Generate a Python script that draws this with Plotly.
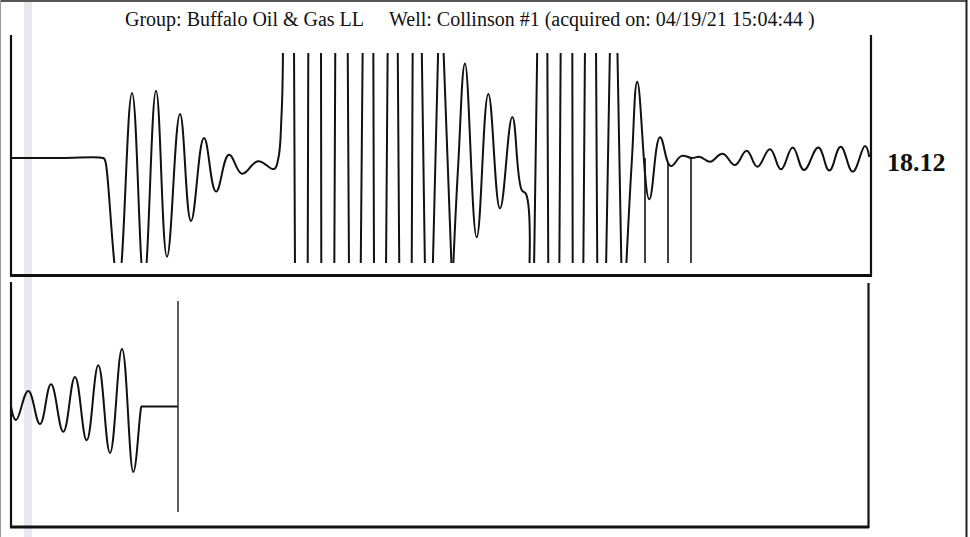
import plotly.graph_objects as go

W, H = 970, 537

# ---------------- data (time in samples, amplitude normalised so the display clip is +/-1) ----------------
# upper trace, split into smooth wavelets and clipped (saturated) bursts
wave1_t = [0, 50, 92, 93.5, 95, 107.3, 121, 133, 145, 156, 169, 180, 193, 205, 218, 231, 247, 263, 267, 270.5, 272]
wave1_amp = [0, 0, 0, -0.01, -0.06, -1.2, 0.62, -1.18, 0.64, -0.94, 0.42, -0.60, 0.19, -0.32, 0.03, -0.15, -0.03,
             -0.105, -0.02, 0.4, 1.08]

burst1_t = [272, 283, 284, 296.7, 297.3, 310, 310.3, 323.3, 324.3, 336.7, 338, 349.7, 351.7, 362.3, 363,
            375, 376.7, 386.7, 388.3, 400.7, 401.7, 410.7, 414, 421.7, 427.3, 432.3, 440.7, 442]
burst1_amp = [1.08, 1.08, -1.08, -1.08, 1.08, 1.08, -1.08, -1.08, 1.08, 1.08, -1.08, -1.08, 1.08, 1.08, -1.08,
              -1.08, 1.08, 1.08, -1.08, -1.08, 1.08, 1.08, -1.08, -1.08, 1.08, 1.08, -1.08, -1.08]

wave2_t = [442, 447.3, 454, 465.7, 477.3, 489, 501.3, 510.7, 515, 518.3]
wave2_amp = [-1.08, -0.05, 0.90, -0.755, 0.61, -0.48, 0.39, -0.305, -0.343, -1.08]

burst2_t = [518.3, 523, 526.3, 536.3, 537.3, 548.3, 549.7, 561.3, 561.7, 572.3, 574, 585, 586.3, 595, 599,
            606.3, 610.5, 615]
burst2_amp = [-1.08, -1.08, 1.08, 1.08, -1.08, -1.08, 1.08, 1.08, -1.08, -1.08, 1.08, 1.08, -1.08, -1.08, 1.08,
              1.08, -1.08, -1.08]

tail_t = [615, 621, 626.3, 638.3, 649, 659.7, 670.7, 680.7, 689, 699, 711.7, 724, 735.7, 746.3,
          759, 770, 781.7, 793, 807.3, 818.3, 829.7, 841.7, 854, 858.3]
tail_amp = [-1.08, 0.0, 0.727, -0.393, 0.197, -0.076, 0.02, 0.0, 0.01, -0.035, 0.04, -0.067, 0.07, -0.083,
            0.083, -0.108, 0.10, -0.114, 0.10, -0.12, 0.108, -0.13, 0.114, 0.01]

pick_t = [634, 657, 680]          # pick markers on the upper trace
pick_from = [0.0, -0.05, 0.0]
pick_to = [-1.2, -1.2, -1.2]

# lower trace
bot_t = [0, 5, 17.3, 29, 40, 52.3, 64, 75.7, 87.3, 99, 111, 122.3, 129.5, 130.5, 132, 150, 167]
bot_amp = [0.0, -0.128, 0.147, -0.166, 0.21, -0.24, 0.28, -0.32, 0.39, -0.44, 0.545, -0.62, -0.05, 0.0, 0.0, 0.0, 0.0]
bot_cursor_t = 167

title_text = ("Group: Buffalo Oil & Gas LL" + "\u00a0" * 5 +
              "Well: Collinson #1 (acquired on: 04/19/21 15:04:44 )")
value_label = "18.12"

# ---------------- figure ----------------
INK = "#111111"
fig = go.Figure()

for tt, aa, shp in [(wave1_t, wave1_amp, "spline"), (burst1_t, burst1_amp, "linear"),
                    (wave2_t, wave2_amp, "spline"), (burst2_t, burst2_amp, "linear"),
                    (tail_t, tail_amp, "spline")]:
    ln = dict(color=INK, width=2, shape=shp)
    if shp == "spline":
        ln["smoothing"] = 1.2
    fig.add_trace(go.Scatter(x=tt, y=aa, mode="lines", line=ln,
                             xaxis="x", yaxis="y", hoverinfo="skip"))

px_, py_ = [], []
for t, a, b in zip(pick_t, pick_from, pick_to):
    px_ += [t, t, None]
    py_ += [a, b, None]
fig.add_trace(go.Scatter(x=px_, y=py_, mode="lines", line=dict(color=INK, width=1.6),
                         xaxis="x", yaxis="y", hoverinfo="skip"))

fig.add_trace(go.Scatter(x=bot_t, y=bot_amp, mode="lines",
                         line=dict(color=INK, width=2, shape="spline", smoothing=1.2),
                         xaxis="x2", yaxis="y2", hoverinfo="skip"))
fig.add_trace(go.Scatter(x=[bot_cursor_t, bot_cursor_t], y=[-1, 1], mode="lines",
                         line=dict(color="#2a2a2a", width=1.5),
                         xaxis="x2", yaxis="y2", hoverinfo="skip"))


def X(p):
    return p / W


def Y(p):
    return 1 - p / H


xdom = [X(11), X(870)]
ax = dict(visible=False, range=[0, 859], domain=xdom, fixedrange=True)
ay = dict(visible=False, range=[-1, 1], fixedrange=True)

shapes = []


def seg(x0, y0, x1, y1, w=2.2, c=INK):
    shapes.append(dict(type="line", xref="paper", yref="paper",
                       x0=X(x0), y0=Y(y0), x1=X(x1), y1=Y(y1),
                       line=dict(color=c, width=w), layer="above"))


# scan artefacts / page edges
shapes.append(dict(type="rect", xref="paper", yref="paper", x0=X(24), x1=X(32), y0=0, y1=1,
                   fillcolor="#e8e8ee", line=dict(width=0), layer="below"))
seg(0, 1, 966, 1, 2, "#555555")
seg(966.5, 0, 966.5, 537, 2, "#222222")
seg(0.5, 0, 0.5, 537, 1, "#999999")

# upper panel frame
seg(11, 35, 11, 276, 2.2)
seg(10, 275.5, 872, 275.5, 2.8)
seg(871, 35, 871, 276, 2.2)
# lower panel frame
seg(11, 282, 11, 528, 2.2)
seg(10, 527, 869, 527, 2.8)
seg(868.5, 283, 868.5, 528, 2.2)

fig.update_layout(
    width=W, height=H, autosize=False,
    margin=dict(l=0, r=0, t=0, b=0),
    paper_bgcolor="white", plot_bgcolor="rgba(0,0,0,0)",
    showlegend=False,
    xaxis=dict(ax, anchor="y"),
    yaxis=dict(ay, domain=[Y(263), Y(53)], anchor="x"),
    xaxis2=dict(ax, anchor="y2"),
    yaxis2=dict(ay, domain=[Y(512), Y(301)], anchor="x2"),
    shapes=shapes,
    annotations=[
        dict(text=title_text, xref="paper", yref="paper", x=X(469.5), y=Y(20),
             xanchor="center", yanchor="middle", showarrow=False,
             font=dict(family="Liberation Serif, Times New Roman, serif", size=20, color=INK)),
        dict(text="<b>" + value_label + "</b>", xref="paper", yref="paper", x=X(916), y=Y(162),
             xanchor="center", yanchor="middle", showarrow=False,
             font=dict(family="Liberation Serif, Times New Roman, serif", size=26, color=INK)),
    ],
)

fig.write_html("out.html", config={"displayModeBar": False, "staticPlot": True},
               post_script="document.body.style.margin='0px';")
